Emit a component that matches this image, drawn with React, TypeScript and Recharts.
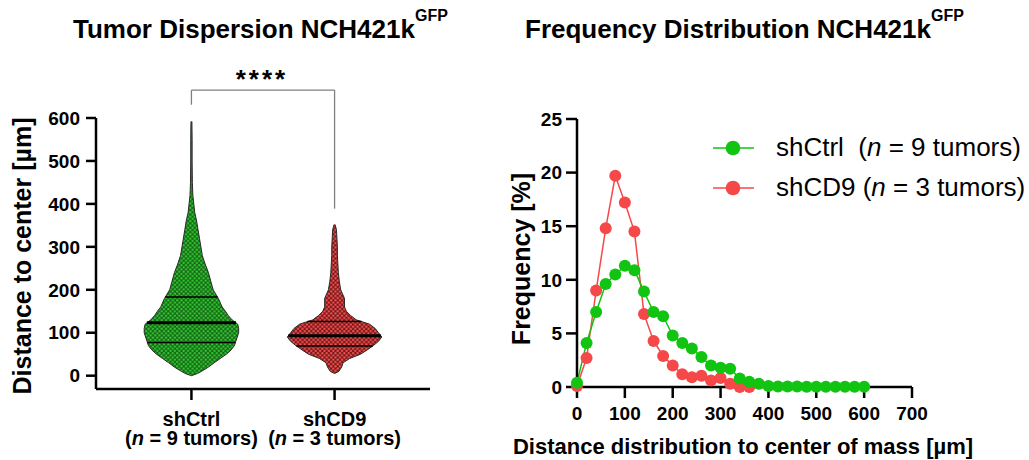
import React from 'react'
import { ComposedChart, LineChart, Line, Area, XAxis, YAxis, ReferenceLine } from 'recharts'

const FONT = '"Liberation Sans", Arial, Helvetica, sans-serif'
const GREEN = '#11c411'
const RED = '#f54848'

// ---- left: violin of distance to center ----
const groups = ['shCtrl', 'shCD9']
const groupTumors = [9, 3]

// violin outline: relative density (half-width, 1 = widest) at each distance in µm
const ctrlDistance = [
  0, 5, 10, 20, 30, 40, 50, 60, 70, 80, 90, 100, 110, 120, 130, 140, 150, 160, 180, 200,
  220, 240, 260, 280, 300, 320, 340, 360, 380, 400, 420, 450, 500, 550, 592,
]
const ctrlDensity = [
  0, 0.13, 0.21, 0.36, 0.48, 0.61, 0.74, 0.84, 0.91, 0.94, 0.97, 1.0, 1.0, 0.98, 0.86, 0.78, 0.72, 0.65, 0.57, 0.46,
  0.41, 0.36, 0.29, 0.23, 0.2, 0.17, 0.14, 0.11, 0.07, 0.05, 0.03, 0.02, 0.015, 0.015, 0.01,
]
const cd9Distance = [
  5, 10, 20, 30, 40, 50, 60, 70, 80, 90, 100, 110, 120, 130, 140, 150, 160, 180, 200,
  220, 240, 260, 280, 300, 320, 340, 352,
]
const cd9Density = [
  0, 0.09, 0.15, 0.18, 0.32, 0.55, 0.69, 0.82, 0.93, 1.0, 0.93, 0.86, 0.74, 0.46, 0.34, 0.25, 0.21, 0.21, 0.13,
  0.1, 0.08, 0.07, 0.06, 0.06, 0.05, 0.04, 0.01,
]
const ctrlQuartiles = [77, 123, 183]
const cd9Quartiles = [69, 93, 126]
const distanceTicks = [0, 100, 200, 300, 400, 500, 600]

// ---- right: frequency distribution ----
const binCenters = [
  0, 20, 40, 60, 80, 100, 120, 140, 160, 180, 200, 220, 240, 260, 280, 300, 320, 340, 360, 380,
  400, 420, 440, 460, 480, 500, 520, 540, 560, 580, 600,
]
const ctrlFrequency = [
  0.4, 4.1, 7.0, 9.6, 10.5, 11.3, 10.9, 8.9, 7.0, 6.6, 4.8, 4.1, 3.6, 2.8, 2.0, 1.8, 1.7, 0.8, 0.5, 0.3,
  0.1, 0.05, 0.05, 0.04, 0.03, 0.03, 0.02, 0.02, 0.02, 0.02, 0.02,
]
const cd9Frequency = [
  0.1, 2.7, 9.0, 14.8, 19.7, 17.2, 14.5, 6.8, 4.3, 2.9, 2.0, 1.2, 0.9, 1.05, 0.6, 0.85, 0.3, 0, 0,
]
const frequencyTicks = [0, 5, 10, 15, 20, 25]
const binTicks = [0, 100, 200, 300, 400, 500, 600, 700]

const HALF = 0.33

const violin = (dist: number[], dens: number[], center: number) =>
  dist.map((d, i) => ({ d, v: [center - dens[i] * HALF, center + dens[i] * HALF] }))

const ctrlViolin = violin(ctrlDistance, ctrlDensity, 1)
const cd9Violin = violin(cd9Distance, cd9Density, 2)

const freqData = binCenters.map((x, i) => ({
  x,
  ctrl: ctrlFrequency[i],
  cd9: i < cd9Frequency.length ? cd9Frequency[i] : null,
}))

function densityAt(dist: number[], dens: number[], y: number) {
  for (let i = 0; i < dist.length - 1; i++) {
    if (y >= dist[i] && y <= dist[i + 1]) {
      return dens[i] + ((dens[i + 1] - dens[i]) * (y - dist[i])) / (dist[i + 1] - dist[i])
    }
  }
  return 0
}

function quartileLines(center: number, dist: number[], dens: number[], qs: number[]) {
  return qs.map((q, i) => {
    const w = densityAt(dist, dens, q) * HALF
    return (
      <ReferenceLine
        key={`q${center}-${i}`}
        segment={[{ x: center - w, y: q }, { x: center + w, y: q }]}
        stroke="#000"
        strokeWidth={i === 1 ? 3 : 1.5}
      />
    )
  })
}

function GroupTick(props: any) {
  const { x, y, payload } = props
  const i = Math.round(payload.value) - 1
  return (
    <g transform={`translate(${x},${y})`}>
      <text textAnchor="middle" fontFamily={FONT} fontWeight="bold" fontSize={20} fill="#000">
        <tspan x={0} dy={26}>{groups[i]}</tspan>
        <tspan x={0} dy={19}>(</tspan>
        <tspan fontStyle="italic">n</tspan>
        <tspan>{` = ${groupTumors[i]} tumors)`}</tspan>
      </text>
    </g>
  )
}

const tickStyle = { fontFamily: FONT, fontWeight: 'bold' as const, fontSize: 19, fill: '#000' }
const axisStroke = { stroke: '#000', strokeWidth: 2.5 }

const DOTS = (id: string, bg: string, dot: string, edge: string) => (
  <pattern id={id} patternUnits="userSpaceOnUse" width={4.4} height={4.4}>
    <rect width={4.4} height={4.4} fill={bg} />
    <circle cx={1.1} cy={1.1} r={1.4} fill={dot} stroke={edge} strokeWidth={0.3} />
    <circle cx={3.3} cy={3.3} r={1.4} fill={dot} stroke={edge} strokeWidth={0.3} />
  </pattern>
)

const violinMargin = { top: 118, right: 30, bottom: 11, left: 0 }

function ViolinChart() {
  return (
    <ComposedChart width={460} height={460} layout="vertical" data={ctrlViolin} margin={violinMargin}>
      <defs>{DOTS('greenDots', '#156a15', '#34cc34', '#083a08')}</defs>
      <XAxis
        type="number"
        domain={[1 / 3, 8 / 3]}
        allowDataOverflow
        ticks={[1, 2]}
        interval={0}
        height={60}
        tick={<GroupTick />}
        tickSize={11}
        tickMargin={0}
        axisLine={axisStroke}
        tickLine={axisStroke}
      />
      <YAxis
        type="number"
        dataKey="d"
        reversed
        domain={[-31, 600]}
        allowDataOverflow
        ticks={distanceTicks}
        interval={0}
        width={96}
        tick={tickStyle}
        tickSize={10}
        tickMargin={6}
        axisLine={axisStroke}
        tickLine={axisStroke}
      />
      <Area
        dataKey="v"
        type="linear"
        stroke="#2a2a2a"
        strokeWidth={1}
        fill="url(#greenDots)"
        fillOpacity={1}
        dot={false}
        activeDot={false}
        isAnimationActive={false}
      />
      {quartileLines(1, ctrlDistance, ctrlDensity, ctrlQuartiles)}
      <ReferenceLine segment={[{ x: 1, y: 631 }, { x: 1, y: 665 }]} ifOverflow="visible" stroke="#7f7f7f" strokeWidth={1.3} />
      <ReferenceLine segment={[{ x: 1, y: 665 }, { x: 2, y: 665 }]} ifOverflow="visible" stroke="#7f7f7f" strokeWidth={1.3} />
      <ReferenceLine segment={[{ x: 2, y: 389 }, { x: 2, y: 665 }]} ifOverflow="visible" stroke="#7f7f7f" strokeWidth={1.3} />
    </ComposedChart>
  )
}

// second violin drawn on an identical, axis-less chart laid on top
function Cd9ViolinChart() {
  return (
    <ComposedChart
      width={460}
      height={460}
      layout="vertical"
      data={cd9Violin}
      margin={{ ...violinMargin, left: 96, bottom: 71 }}
    >
      <defs>{DOTS('redDots', '#7a1818', '#ff5252', '#3a0808')}</defs>
      <XAxis type="number" domain={[1 / 3, 8 / 3]} allowDataOverflow hide />
      <YAxis type="number" dataKey="d" reversed domain={[-31, 600]} allowDataOverflow hide />
      <Area
        dataKey="v"
        type="linear"
        stroke="#2a2a2a"
        strokeWidth={1}
        fill="url(#redDots)"
        fillOpacity={1}
        dot={false}
        activeDot={false}
        isAnimationActive={false}
      />
      {quartileLines(2, cd9Distance, cd9Density, cd9Quartiles)}
    </ComposedChart>
  )
}

function FrequencyChart() {
  return (
    <LineChart width={549} height={460} data={freqData} margin={{ top: 119, right: 117, bottom: 13, left: 0 }}>
      <XAxis
        type="number"
        dataKey="x"
        domain={[0, 700]}
        ticks={binTicks}
        interval={0}
        height={60}
        tick={tickStyle}
        tickSize={11}
        tickMargin={9}
        axisLine={axisStroke}
        tickLine={axisStroke}
      />
      <YAxis
        type="number"
        domain={[0, 25]}
        ticks={frequencyTicks}
        interval={0}
        width={97}
        tick={tickStyle}
        tickSize={11}
        tickMargin={4}
        axisLine={axisStroke}
        tickLine={axisStroke}
      />
      <Line
        dataKey="cd9"
        stroke={RED}
        strokeWidth={1.5}
        dot={{ r: 6, fill: RED, stroke: 'none' }}
        activeDot={false}
        isAnimationActive={false}
      />
      <Line
        dataKey="ctrl"
        stroke={GREEN}
        strokeWidth={1.5}
        dot={{ r: 6, fill: GREEN, stroke: 'none' }}
        activeDot={false}
        isAnimationActive={false}
      />
    </LineChart>
  )
}

function Overlay() {
  const bold = { fontFamily: FONT, fontWeight: 'bold' as const, fill: '#000' }
  const legend = [
    { label: 'shCtrl  (', n: groupTumors[0], color: GREEN, y: 148 },
    { label: 'shCD9 (', n: groupTumors[1], color: RED, y: 188 },
  ]
  return (
    <svg width={1029} height={460} style={{ position: 'absolute', left: 0, top: 0, pointerEvents: 'none' }}>
      <text x={73} y={38} fontSize={26} {...bold}>
        Tumor Dispersion NCH421k
        <tspan fontSize={16} dy={-17}>GFP</tspan>
      </text>
      <text x={525} y={38} fontSize={26} {...bold}>
        Frequency Distribution NCH421k
        <tspan fontSize={16} dy={-17}>GFP</tspan>
      </text>
      <text x={262} y={88} fontSize={26} letterSpacing={3} textAnchor="middle" {...bold}>
        ****
      </text>
      <text transform="translate(31,256) rotate(-90)" textAnchor="middle" fontSize={25} {...bold}>
        Distance to center [µm]
      </text>
      <text transform="translate(530,259) rotate(-90)" textAnchor="middle" fontSize={25} {...bold}>
        Frequency [%]
      </text>
      <text x={743} y={454} textAnchor="middle" fontSize={22} {...bold}>
        Distance distribution to center of mass [µm]
      </text>
      {legend.map((l) => (
        <g key={l.label}>
          <line x1={713} x2={754} y1={l.y} y2={l.y} stroke={l.color} strokeWidth={1.5} />
          <circle cx={733} cy={l.y} r={7.3} fill={l.color} />
          <text x={776} y={l.y + 8} fontSize={26} fontFamily={FONT} fill="#000" style={{ whiteSpace: 'pre' }}>
            {l.label}
            <tspan fontStyle="italic">n</tspan>
            {` = ${l.n} tumors)`}
          </text>
        </g>
      ))}
    </svg>
  )
}

export default function App() {
  return (
    <div style={{ position: 'absolute', left: 0, top: 0, width: 1029, height: 460, background: '#fff' }}>
      <div style={{ position: 'absolute', left: 0, top: 0 }}>
        <ViolinChart />
      </div>
      <div style={{ position: 'absolute', left: 0, top: 0 }}>
        <Cd9ViolinChart />
      </div>
      <div style={{ position: 'absolute', left: 480, top: 0 }}>
        <FrequencyChart />
      </div>
      <Overlay />
    </div>
  )
}
